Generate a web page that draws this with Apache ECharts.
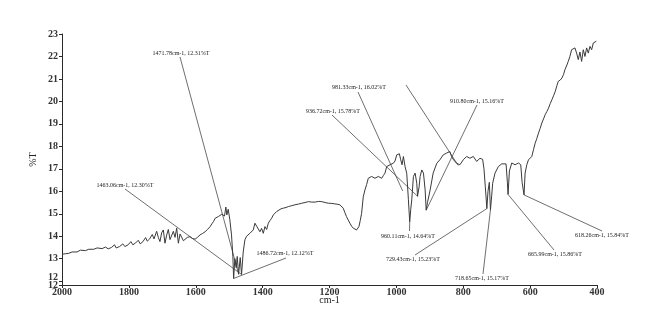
<!DOCTYPE html>
<html>
<head>
<meta charset="utf-8">
<script src="https://cdn.jsdelivr.net/npm/echarts@6/dist/echarts.min.js"></script>
<style>
  html, body { margin: 0; padding: 0; background: #fff; }
  #chart { width: 660px; height: 333px; }
</style>
</head>
<body>
<div id="chart"></div>
<script>
// FTIR spectrum: wavenumber (cm-1) against transmittance (%T)
const wavenumbers = [
  2000, 1990, 1980, 1970, 1965, 1955, 1945, 1940, 1930, 1920, 1915, 1905, 1895, 1890, 1880, 1870,
  1862, 1852, 1843, 1838, 1828, 1818, 1812, 1802, 1794, 1788, 1780, 1772, 1766, 1758, 1750, 1745,
  1738, 1730, 1725, 1717, 1712, 1707, 1702, 1697, 1692, 1687, 1682, 1677, 1672, 1667, 1662, 1657,
  1652, 1647, 1642, 1637, 1632, 1625, 1617, 1610, 1602, 1595, 1587, 1580, 1572, 1565, 1557, 1552,
  1547, 1542, 1537, 1532, 1527, 1522, 1518, 1514, 1510, 1507, 1503, 1498, 1493, 1489, 1486.72,
  1483, 1479, 1476, 1471.78, 1467, 1463.06, 1458, 1453, 1448, 1443, 1438, 1433, 1428, 1423, 1418,
  1413, 1408, 1403, 1398, 1393, 1388, 1383, 1378, 1373, 1368, 1363, 1358, 1353, 1345, 1338, 1330,
  1323, 1313, 1303, 1293, 1283, 1273, 1263, 1253, 1243, 1233, 1223, 1213, 1203, 1193, 1184, 1175,
  1169, 1164, 1159, 1154, 1149, 1144, 1139, 1134, 1129, 1124, 1119, 1115, 1112, 1108, 1104, 1099,
  1094, 1089, 1084, 1079, 1074, 1069, 1064, 1059, 1054, 1049, 1044, 1039, 1034, 1029, 1024, 1019,
  1014, 1009, 1004, 999, 995, 991, 987, 983, 979, 974, 969, 964, 960.11, 957, 954, 949,
  944, 939, 936.72, 932, 929, 924, 919, 914, 910.80, 907, 899, 890, 879, 870, 860, 850,
  840, 835, 829, 820, 810, 800, 790, 780, 770, 760, 750, 742, 738, 734, 729.43, 726,
  722, 718.65, 715, 712, 705, 695, 685, 680, 672, 668, 665.99, 662, 655, 645, 635, 628,
  624, 618.26, 615, 610, 605, 600, 595, 590, 585, 580, 575, 570, 565, 560, 555, 550,
  545, 540, 535, 530, 525, 520, 516, 510, 505, 500, 496, 490, 486, 481, 476, 471,
  466, 461, 456, 451, 446, 441, 436, 431, 426, 421, 416, 411, 406, 402
];
const transmittance = [
  13.20, 13.22, 13.24, 13.30, 13.25, 13.30, 13.38, 13.30, 13.36, 13.42, 13.35, 13.42, 13.48, 13.40, 13.45, 13.52,
  13.44, 13.50, 13.62, 13.48, 13.54, 13.66, 13.54, 13.62, 13.76, 13.62, 13.70, 13.82, 13.66, 13.76, 13.94, 13.78,
  13.88, 14.08, 13.88, 14.22, 13.95, 13.76, 14.15, 14.28, 13.69, 14.05, 14.30, 13.85, 13.92, 14.22, 13.95, 14.36,
  13.69, 14.10, 14.06, 13.80, 13.86, 13.95, 13.98, 13.90, 13.87, 13.95, 14.06, 14.12, 14.20, 14.30, 14.43, 14.55,
  14.65, 14.80, 14.72, 14.88, 14.80, 14.98, 15.05, 14.90, 15.30, 14.95, 15.20, 14.73, 14.06, 13.10, 12.12,
  13.00, 12.60, 13.10, 12.31, 13.05, 12.30, 13.30, 13.84, 14.00, 13.95, 14.13, 14.05, 14.28, 14.58, 14.45,
  14.50, 14.20, 14.35, 14.13, 14.43, 14.30, 14.58, 14.70, 14.80, 14.95, 15.02, 15.10, 15.17, 15.22, 15.25, 15.28,
  15.32, 15.36, 15.40, 15.43, 15.47, 15.50, 15.54, 15.52, 15.52, 15.55, 15.54, 15.50, 15.47, 15.46, 15.44, 15.42,
  15.40, 15.35, 15.25, 15.05, 14.87, 14.72, 14.58, 14.45, 14.36, 14.28, 14.28, 14.36, 14.43, 14.70, 15.02, 15.76,
  16.06, 16.30, 16.58, 16.62, 16.66, 16.62, 16.58, 16.64, 16.66, 16.62, 16.58, 16.70, 16.81, 17.10, 17.15, 17.18,
  17.22, 17.25, 17.35, 17.62, 17.66, 17.67, 17.40, 17.18, 17.55, 17.10, 16.80, 15.62, 14.64, 15.20, 15.62, 16.66,
  16.81, 16.36, 15.78, 16.20, 16.66, 16.95, 16.81, 16.06, 15.16, 15.50, 16.06, 16.81, 17.25, 17.40, 17.62, 17.70,
  17.77, 17.55, 17.40, 17.25, 17.18, 17.40, 17.55, 17.47, 17.55, 17.33, 17.47, 17.42, 17.00, 16.20, 15.23, 16.00,
  16.40, 15.17, 15.80, 16.36, 16.81, 17.10, 17.22, 17.26, 17.22, 16.40, 15.86, 16.90, 17.26, 17.18, 17.26, 17.18,
  16.40, 15.84, 16.81, 17.18, 17.40, 17.33, 17.55, 17.85, 18.14, 18.35, 18.59, 18.80, 19.04, 19.22, 19.41, 19.55,
  19.70, 19.90, 20.07, 20.25, 20.44, 20.70, 20.89, 20.95, 21.04, 21.20, 21.41, 21.62, 21.78, 22.00, 22.30, 22.25,
  22.38, 22.15, 21.86, 22.20, 21.78, 22.30, 22.00, 22.38, 22.15, 22.45, 22.30, 22.60, 22.55, 22.68
];

// Marked band positions and their %T readings
const peakWavenumbers = [1471.78, 1463.06, 1486.72, 981.33, 936.72, 910.80, 815, 960.11, 729.43, 718.65, 665.99, 618.26];
const peakTransmittance = [12.31, 12.30, 12.12, 16.02, 15.78, 15.16, 17.15, 14.64, 15.23, 15.17, 15.86, 15.84];
const peakLabelled = [true, true, true, true, true, true, false, true, true, true, true, true];

// Axis ranges and tick values
const xTicks = { min: 400, max: 2000, step: 200 };
const yRange = { min: 11.83, max: 23 };
const yTickValues = [11.83, 12, 13, 14, 15, 16, 17, 18, 19, 20, 21, 22, 23];
const yLabelValues = [12, 13, 14, 15, 16, 17, 18, 19, 20, 21, 22, 23];
const yEndLabelValues = [11.83];

// Label anchor (text centre) and leader start, in pixels, for each marked band
const labelLayout = [
  { tx: 181, ty: 53,  lx: 180, ly: 57 },
  { tx: 125, ty: 185, lx: 125, ly: 189 },
  { tx: 285, ty: 253, lx: 286, ly: 258 },
  { tx: 359, ty: 87,  lx: 358, ly: 92 },
  { tx: 333, ty: 111, lx: 332, ly: 115 },
  { tx: 477, ty: 101, lx: 477, ly: 105 },
  { tx: 406, ty: 85,  lx: 406, ly: 85 },
  { tx: 408, ty: 236, lx: 409.5, ly: 231 },
  { tx: 413, ty: 259, lx: 415, ly: 255 },
  { tx: 482, ty: 278, lx: 483, ly: 274 },
  { tx: 555, ty: 254, lx: 554, ly: 250 },
  { tx: 602, ty: 235, lx: 602, ly: 231 }
];

const serif = '"Liberation Serif", "DejaVu Serif", serif';
const axisColor = '#2a2a2a';
const labelStyle = { fontFamily: serif, fontSize: 10, fontWeight: 'bold', color: '#333' };

const chart = echarts.init(document.getElementById('chart'), null, { renderer: 'canvas' });

chart.setOption({
  animation: false,
  backgroundColor: '#ffffff',
  grid: { left: 62, right: 63, top: 34, bottom: 48, containLabel: false },
  xAxis: {
    type: 'value',
    inverse: true,
    min: xTicks.min,
    max: xTicks.max,
    interval: xTicks.step,
    name: 'cm-1',
    nameLocation: 'middle',
    nameGap: 10,
    nameMoveOverlap: false,
    nameTextStyle: { fontFamily: serif, fontSize: 10, color: '#222' },
    axisLine: { show: true, onZero: false, lineStyle: { color: axisColor, width: 1 } },
    axisTick: { show: true, inside: false, length: 3, lineStyle: { color: axisColor } },
    axisLabel: Object.assign({ margin: 2, formatter: function (v) { return String(v); } }, labelStyle),
    splitLine: { show: false }
  },
  yAxis: [{
    type: 'value',
    min: yRange.min,
    max: yRange.max,
    name: '%T',
    nameLocation: 'middle',
    nameGap: 24,
    nameMoveOverlap: false,
    nameTextStyle: { fontFamily: serif, fontSize: 10, color: '#222' },
    axisLine: { show: true, onZero: false, lineStyle: { color: axisColor, width: 1 } },
    axisTick: { show: true, inside: false, length: 3, customValues: yTickValues, lineStyle: { color: axisColor } },
    axisLabel: Object.assign({
      margin: 4,
      customValues: yLabelValues,
      hideOverlap: false,
      formatter: function (v) { return v === 12 ? '{up|12}' : String(v); },
      rich: { up: Object.assign({ padding: [0, 0, 8, 0] }, labelStyle) }
    }, labelStyle),
    splitLine: { show: false }
  }, {
    // companion axis carrying only the rounded end-of-range label
    type: 'value',
    position: 'left',
    min: yRange.min,
    max: yRange.max,
    axisLine: { show: false },
    axisTick: { show: false },
    axisLabel: Object.assign({
      margin: 4,
      customValues: yEndLabelValues,
      formatter: function (v) { return String(Math.round(v)); }
    }, labelStyle),
    splitLine: { show: false }
  }],
  series: [{
    type: 'line',
    yAxisIndex: 0,
    data: wavenumbers.map(function (w, i) { return [w, transmittance[i]]; }),
    showSymbol: false,
    symbol: 'none',
    smooth: false,
    lineStyle: { color: '#3a3a3a', width: 1 },
    silent: true
  }]
});

// Leader lines and band labels, anchored to the data through the axes
const graphics = [];
peakWavenumbers.forEach(function (w, i) {
  const t = peakTransmittance[i];
  const p = chart.convertToPixel({ xAxisIndex: 0, yAxisIndex: 0 }, [w, t]);
  const L = labelLayout[i];
  graphics.push({
    type: 'line',
    silent: true,
    shape: { x1: L.lx, y1: L.ly, x2: p[0], y2: p[1] },
    style: { stroke: '#4a4a4a', lineWidth: 0.8 }
  });
  if (peakLabelled[i]) {
    graphics.push({
      type: 'text',
      silent: true,
      x: L.tx,
      y: L.ty,
      style: {
        text: w.toFixed(2) + 'cm-1, ' + t.toFixed(2) + '%T',
        font: '6px ' + serif,
        fill: '#222',
        align: 'center',
        verticalAlign: 'middle'
      }
    });
  }
});
chart.setOption({ graphic: graphics });
</script>
</body>
</html>
